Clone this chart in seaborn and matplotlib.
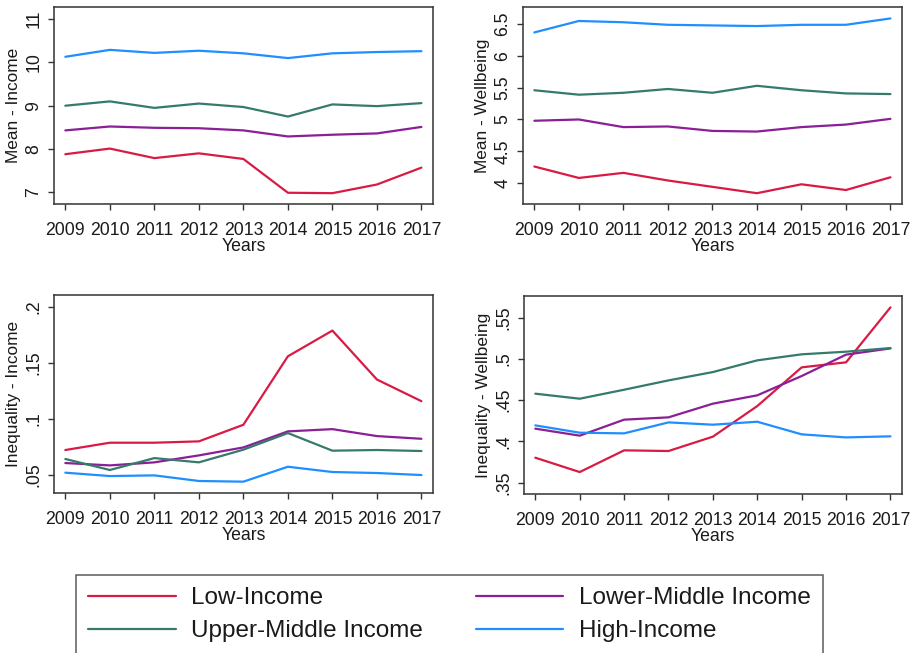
import numpy as np
import pandas as pd
import matplotlib
matplotlib.use("Agg")
import matplotlib.pyplot as plt
import seaborn as sns

years = [2009, 2010, 2011, 2012, 2013, 2014, 2015, 2016, 2017]
groups = ["Low-Income", "Lower-Middle Income", "Upper-Middle Income", "High-Income"]
colors = ["#d81b45", "#8a1f96", "#367a6c", "#1f8fff"]

# Mean income (log scale units)
mean_income_low = [7.88, 8.01, 7.79, 7.90, 7.77, 6.99, 6.98, 7.18, 7.57]
mean_income_lowmid = [8.43, 8.52, 8.49, 8.48, 8.43, 8.29, 8.33, 8.36, 8.51]
mean_income_upmid = [9.00, 9.10, 8.95, 9.05, 8.97, 8.75, 9.03, 8.99, 9.06]
mean_income_high = [10.13, 10.29, 10.22, 10.27, 10.21, 10.10, 10.21, 10.24, 10.26]

# Mean wellbeing
mean_wb_low = [4.26, 4.08, 4.16, 4.04, 3.94, 3.84, 3.98, 3.89, 4.09]
mean_wb_lowmid = [4.98, 5.00, 4.88, 4.89, 4.82, 4.81, 4.88, 4.92, 5.01]
mean_wb_upmid = [5.46, 5.39, 5.42, 5.48, 5.42, 5.53, 5.46, 5.41, 5.40]
mean_wb_high = [6.37, 6.55, 6.53, 6.49, 6.48, 6.47, 6.49, 6.49, 6.59]

# Income inequality
ineq_income_low = [0.0723, 0.0788, 0.0788, 0.0800, 0.0948, 0.1558, 0.1787, 0.1351, 0.1158]
ineq_income_lowmid = [0.0607, 0.0586, 0.0613, 0.0675, 0.0746, 0.0889, 0.0909, 0.0847, 0.0823]
ineq_income_upmid = [0.0643, 0.0545, 0.0651, 0.0613, 0.0726, 0.0874, 0.0717, 0.0723, 0.0714]
ineq_income_high = [0.0521, 0.0491, 0.0497, 0.0447, 0.0441, 0.0574, 0.0527, 0.0518, 0.0500]

# Wellbeing inequality
ineq_wb_low = [0.3803, 0.3629, 0.3892, 0.3884, 0.4058, 0.4429, 0.4898, 0.4959, 0.5625]
ineq_wb_lowmid = [0.4155, 0.4070, 0.4264, 0.4292, 0.4458, 0.4559, 0.4793, 0.5052, 0.5128]
ineq_wb_upmid = [0.4579, 0.4518, 0.4627, 0.4740, 0.4841, 0.4983, 0.5056, 0.5088, 0.5132]
ineq_wb_high = [0.4195, 0.4106, 0.4098, 0.4231, 0.4203, 0.4239, 0.4086, 0.4049, 0.4062]

# Y tick values and their labels per panel
yt_mean_income = [7, 8, 9, 10, 11]
yl_mean_income = ["7", "8", "9", "10", "11"]
yt_mean_wb = [4, 4.5, 5, 5.5, 6, 6.5]
yl_mean_wb = ["4", "4.5", "5", "5.5", "6", "6.5"]
yt_ineq_income = [0.05, 0.1, 0.15, 0.2]
yl_ineq_income = [".05", ".1", ".15", ".2"]
yt_ineq_wb = [0.35, 0.4, 0.45, 0.5, 0.55]
yl_ineq_wb = [".35", ".4", ".45", ".5", ".55"]


def long_frame(series):
    rows = []
    for g, vals in zip(groups, series):
        for y, v in zip(years, vals):
            rows.append({"Year": y, "Value": v, "Group": g})
    return pd.DataFrame(rows)


sns.set_theme(style="ticks")
plt.rcParams["font.family"] = ["Liberation Sans", "DejaVu Sans"]
plt.rcParams["text.color"] = "#1a1a1a"
plt.rcParams["axes.labelcolor"] = "#1a1a1a"
plt.rcParams["xtick.color"] = "#333333"
plt.rcParams["ytick.color"] = "#333333"
plt.rcParams["xtick.labelcolor"] = "#1a1a1a"
plt.rcParams["ytick.labelcolor"] = "#1a1a1a"

W, H = 915, 653
fig = plt.figure(figsize=(W / 100, H / 100), dpi=100)


def px_axes(left, top, right, bottom):
    return fig.add_axes([left / W, 1 - bottom / H, (right - left) / W, (bottom - top) / H])


panels = [
    ((54, 7, 433, 204), [mean_income_low, mean_income_lowmid, mean_income_upmid, mean_income_high],
     "Mean - Income", (6.73, 11.28), yt_mean_income, yl_mean_income),
    ((523, 7, 902, 204), [mean_wb_low, mean_wb_lowmid, mean_wb_upmid, mean_wb_high],
     "Mean - Wellbeing", (3.67, 6.77), yt_mean_wb, yl_mean_wb),
    ((54, 295, 433, 493), [ineq_income_low, ineq_income_lowmid, ineq_income_upmid, ineq_income_high],
     "Inequality - Income", (0.034, 0.2104), yt_ineq_income, yl_ineq_income),
    ((524, 296, 902, 494), [ineq_wb_low, ineq_wb_lowmid, ineq_wb_upmid, ineq_wb_high],
     "Inequality - Wellbeing", (0.3363, 0.5763), yt_ineq_wb, yl_ineq_wb),
]

palette = dict(zip(groups, colors))
FS = 12.7

for box, series, ylabel, ylim, yt, yl in panels:
    ax = px_axes(*box)
    width_px = box[2] - box[0]
    df = long_frame(series)
    sns.lineplot(data=df, x="Year", y="Value", hue="Group", hue_order=groups,
                 palette=palette, linewidth=1.6, legend=False, ax=ax)
    ax.set_xlim(2008.745, 2017.26)
    ax.set_ylim(*ylim)
    ax.set_xticks(years)
    ax.set_xticklabels([str(y) for y in years], fontsize=FS)
    ax.set_yticks(yt)
    ax.set_yticklabels(yl, fontsize=FS, rotation=90, va="center")
    ax.set_xlabel("Years", fontsize=FS, labelpad=-1)
    ax.set_ylabel(ylabel, fontsize=12.4)
    ax.yaxis.set_label_coords(-33 / width_px, 0.5)
    ax.tick_params(axis="x", length=4.5, width=1.0, pad=8.5)
    ax.tick_params(axis="y", length=4.5, width=1.0, pad=4)
    for sp in ax.spines.values():
        sp.set_visible(True)
        sp.set_color("#333333")
        sp.set_linewidth(1.1)

# Legend fills column by column; order entries so rows read left to right
order = [0, 2, 1, 3]
handles = [plt.Line2D([], [], color=colors[i], linewidth=1.6) for i in order]
labels = [groups[i] for i in order]
leg = fig.legend(handles, labels, loc="upper left", ncol=2,
                 bbox_to_anchor=(76 / W, 1 - 575 / H), borderaxespad=0,
                 fontsize=17.5, frameon=True, fancybox=False, edgecolor="#333333",
                 handlelength=3.6, handletextpad=0.65, columnspacing=2.15,
                 labelspacing=0.45, borderpad=0.5)
leg.get_frame().set_linewidth(1.1)

fig.savefig("out.png", dpi=100, facecolor="white")
